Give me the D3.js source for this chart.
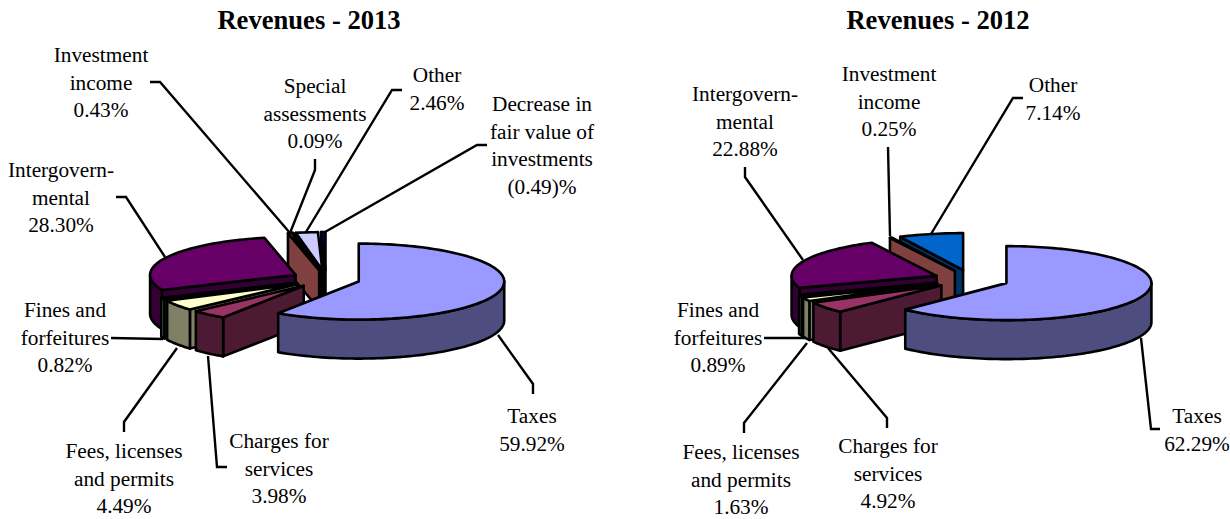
<!DOCTYPE html>
<html>
<head>
<meta charset="utf-8">
<title>Revenues</title>
<script src="https://cdn.jsdelivr.net/npm/d3@7"></script>
<style>
  body { margin: 0; background: #fff; }
  text { font-family: "Liberation Serif", "Times New Roman", serif; fill: #000; }
</style>
</head>
<body>
<svg id="chart" width="1230" height="519"></svg>
<script>
// Data. Percent labels are kept as printed.
var categories2013 = ["Taxes", "Charges for services", "Fees, licenses and permits", "Fines and forfeitures", "Intergovernmental", "Investment income", "Special assessments", "Other", "Decrease in fair value of investments"];
var values2013 = [59.92, 3.98, 4.49, 0.82, 28.30, 0.43, 0.09, 2.46, -0.49];

var categories2012 = ["Taxes", "Charges for services", "Fees, licenses and permits", "Fines and forfeitures", "Intergovernmental", "Investment income", "Other"];
var values2012 = [62.29, 4.92, 1.63, 0.89, 22.88, 0.25, 7.14];

// Excel's default chart palette, taken in series order
var palette = ["#9999ff", "#993366", "#ffffcc", "#ccffff", "#660066", "#ff8080", "#0066cc", "#ccccff", "#000080"];

var svg = d3.select("#chart");

var fmtLabel = function(v) {
  return v < 0 ? "(" + d3.format(".2f")(-v) + ")%" : d3.format(".2f")(v) + "%";
};

// wrapped label lines for each chart, in category order
var wrap2013 = [["Taxes"], ["Charges for", "services"], ["Fees, licenses", "and permits"], ["Fines and", "forfeitures"], ["Intergovern-", "mental"], ["Investment", "income"], ["Special", "assessments"], ["Other"], ["Decrease in", "fair value of", "investments"]];
var wrap2012 = [["Taxes"], ["Charges for", "services"], ["Fees, licenses", "and permits"], ["Fines and", "forfeitures"], ["Intergovern-", "mental"], ["Investment", "income"], ["Other"]];

// label placement: centre x, first line centre y, leader polyline
var layout2013 = [
  { x: 532, y: 418, leader: [[498, 335], [533, 384], [533, 394]] },
  { x: 279, y: 443, leader: [[227, 467], [217, 467], [208, 356]] },
  { x: 124, y: 453, leader: [[124, 432], [124, 422], [177, 348]] },
  { x: 65, y: 312, leader: [[111, 338], [163, 339]] },
  { x: 61, y: 172, leader: [[116, 197], [126, 197], [165, 257]] },
  { x: 101, y: 57, leader: [[150, 82], [160, 82], [290, 233]] },
  { x: 315, y: 88, leader: [[315, 159], [315, 170], [290, 233]] },
  { x: 437, y: 77, leader: [[402, 90], [392, 90], [306, 232]] },
  { x: 542, y: 106, leader: [[487, 145], [477, 145], [325, 232]] }
];
var layout2012 = [
  { x: 1197, y: 418, leader: [[1141, 338], [1151, 429], [1160, 429]] },
  { x: 888, y: 448, leader: [[887, 428], [887, 418], [828, 348]] },
  { x: 741, y: 454, leader: [[744, 433], [744, 423], [807, 343]] },
  { x: 718, y: 312, leader: [[764, 338], [805, 338]] },
  { x: 745, y: 96, leader: [[745, 167], [745, 177], [803, 260]] },
  { x: 889, y: 76, leader: [[888, 147], [890, 236]] },
  { x: 1053, y: 87, leader: [[1023, 98], [1013, 98], [931, 234]] }
];

var drawPie = function(o) {
  var g = svg.append("g");

  g.append("text")
    .attr("x", o.titleX).attr("y", 23)
    .attr("text-anchor", "middle").attr("dominant-baseline", "middle")
    .style("font-size", "26.6px").style("font-weight", "bold")
    .text(o.title);

  // leaders go under the pie
  g.selectAll("path.leader")
    .data(o.layout)
    .enter().append("path")
    .attr("class", "leader")
    .attr("d", function(d) { return d3.line()(d.leader); })
    .attr("fill", "none").attr("stroke", "#000").attr("stroke-width", 2.4);

  // negative values still get a slice of their size
  var arcs = d3.pie().sort(null).value(function(d) { return Math.abs(d); })(o.values);

  var sx = d3.scaleLinear().domain([-1, 1]).range([o.cx - o.rx, o.cx + o.rx]);
  var sy = d3.scaleLinear().domain([-1, 1]).range([o.cy - o.ry, o.cy + o.ry]);
  var line = d3.line();

  var project = function(apex, a, depth) {
    var p = d3.pointRadial(a, 1);
    return [sx(apex[0] + p[0]), sy(apex[1] + p[1]) + depth];
  };
  var sample = function(a0, a1) {
    var n = Math.max(2, Math.ceil((a1 - a0) / 0.03));
    return d3.range(n + 1).map(function(i) { return a0 + (a1 - a0) * i / n; });
  };

  // back slices first, the first slice (Taxes) last
  arcs.slice().reverse().forEach(function(d) {
    var mid = (d.startAngle + d.endAngle) / 2,
        apex = d3.pointRadial(mid, o.explode),
        centre = [sx(apex[0]), sy(apex[1])],
        color = palette[d.index],
        c = d3.rgb(color),
        dark = d3.rgb(c.r * 0.5, c.g * 0.5, c.b * 0.5).toString(),
        slice = g.append("g").attr("class", "slice");

    var wall = function(pts) {
      slice.append("path")
        .attr("d", line(pts) + "Z")
        .attr("fill", dark).attr("stroke", "#000")
        .attr("stroke-width", 2.6).attr("stroke-linejoin", "round");
    };
    var cut = function(a) {
      var p = project(apex, a, 0);
      wall([centre, p, [p[0], p[1] + o.depth], [centre[0], centre[1] + o.depth]]);
    };

    if (d.startAngle > Math.PI) cut(d.startAngle);
    if (d.endAngle < Math.PI) cut(d.endAngle);

    // the rim only where it faces us
    var a0 = Math.max(d.startAngle, Math.PI / 2),
        a1 = Math.min(d.endAngle, Math.PI * 1.5);
    if (a1 > a0) {
      var top = sample(a0, a1).map(function(a) { return project(apex, a, 0); });
      var bottom = sample(a0, a1).reverse().map(function(a) { return project(apex, a, o.depth); });
      wall(top.concat(bottom));
    }

    var face = [centre].concat(sample(d.startAngle, d.endAngle).map(function(a) { return project(apex, a, 0); }));
    slice.append("path")
      .attr("d", line(face) + "Z")
      .attr("fill", color).attr("stroke", "#000")
      .attr("stroke-width", 2.6).attr("stroke-linejoin", "round");
  });

  // labels
  o.values.forEach(function(v, i) {
    var lines = o.wrap[i].concat([fmtLabel(v)]),
        pos = o.layout[i];
    g.selectAll(null)
      .data(lines)
      .enter().append("text")
      .attr("x", pos.x)
      .attr("y", function(d, k) { return pos.y + k * 27.7; })
      .attr("text-anchor", "middle").attr("dominant-baseline", "middle")
      .style("font-size", "21.3px")
      .text(function(d) { return d; });
  });
};

drawPie({ title: "Revenues - 2013", titleX: 309, values: values2013, wrap: wrap2013, layout: layout2013,
  cx: 326, cy: 279, rx: 145.5, ry: 38, depth: 39, explode: 0.235 });
drawPie({ title: "Revenues - 2012", titleX: 938, values: values2012, wrap: wrap2012, layout: layout2012,
  cx: 971.5, cy: 279.5, rx: 145, ry: 37, depth: 39, explode: 0.26 });
</script>
</body>
</html>
